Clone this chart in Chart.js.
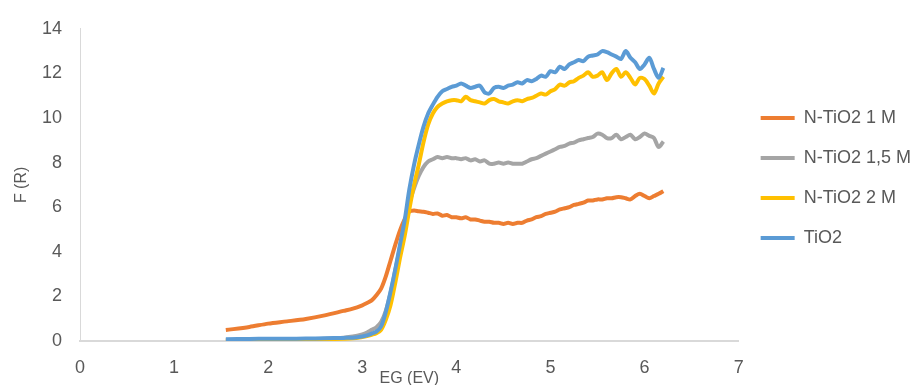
<!DOCTYPE html>
<html>
<head>
<meta charset="utf-8">
<script src="https://cdn.jsdelivr.net/npm/chart.js@4.4.1/dist/chart.umd.min.js"></script>
<style>
  html, body { margin: 0; padding: 0; background: #fff; }
  #wrap { width: 914px; height: 385px; position: relative; }
</style>
</head>
<body>
<div id="wrap"><canvas id="canvas"></canvas></div>
<script>
// band gap energy (eV), shared by all samples
const eg = [1.55, 1.8, 2.0, 2.2, 2.4, 2.6, 2.8, 2.9, 3.0, 3.05, 3.1, 3.15, 3.2, 3.25, 3.3, 3.35, 3.4, 3.45, 3.5, 3.55,
  3.6, 3.65, 3.7, 3.75, 3.8, 3.85, 3.9, 3.95, 4.0, 4.05, 4.1, 4.15, 4.2, 4.25, 4.3, 4.35, 4.4, 4.45,
  4.5, 4.55, 4.6, 4.65, 4.7, 4.75, 4.8, 4.85, 4.9, 4.95, 5.0, 5.05, 5.1, 5.15, 5.2, 5.25, 5.3, 5.35,
  5.4, 5.45, 5.5, 5.55, 5.6, 5.65, 5.7, 5.75, 5.8, 5.85, 5.9, 5.95, 6.0, 6.05, 6.1, 6.15, 6.2];

const nTiO2_1M = [0.49, 0.63, 0.78, 0.88, 0.99, 1.15, 1.35, 1.45, 1.6, 1.7, 1.82, 2.05, 2.35, 2.9, 3.6, 4.3, 4.95, 5.45, 5.8, 5.85,
  5.82, 5.8, 5.75, 5.7, 5.72, 5.62, 5.65, 5.55, 5.55, 5.5, 5.55, 5.45, 5.45, 5.4, 5.35, 5.35, 5.3, 5.3,
  5.25, 5.3, 5.25, 5.3, 5.3, 5.4, 5.45, 5.55, 5.6, 5.7, 5.75, 5.8, 5.9, 5.95, 6.0, 6.1, 6.15, 6.2,
  6.3, 6.3, 6.35, 6.35, 6.4, 6.4, 6.45, 6.45, 6.4, 6.35, 6.5, 6.6, 6.5, 6.4, 6.5, 6.6, 6.72];

const nTiO2_15M = [0.03, 0.04, 0.05, 0.06, 0.08, 0.1, 0.15, 0.2, 0.3, 0.38, 0.5, 0.62, 0.85, 1.35, 2.15, 3.15, 4.2, 5.3, 6.2, 6.85,
  7.4, 7.8, 8.05, 8.15, 8.25, 8.2, 8.25, 8.2, 8.2, 8.15, 8.2, 8.1, 8.15, 8.05, 8.1, 7.95, 7.95, 8.0,
  7.95, 8.0, 7.95, 7.95, 7.95, 8.05, 8.15, 8.2, 8.3, 8.4, 8.5, 8.6, 8.7, 8.75, 8.85, 8.9, 9.0, 9.05,
  9.1, 9.15, 9.3, 9.25, 9.1, 9.1, 9.25, 9.05, 9.15, 9.25, 9.05, 9.15, 9.3, 9.2, 9.1, 8.7, 8.95];

const nTiO2_2M = [0.02, 0.03, 0.04, 0.05, 0.06, 0.08, 0.1, 0.12, 0.18, 0.22, 0.28, 0.35, 0.5, 0.95, 1.6, 2.6, 3.7, 4.7, 5.9, 7.0,
  7.9, 8.9, 9.7, 10.2, 10.5, 10.65, 10.75, 10.8, 10.8, 10.75, 10.95, 10.8, 10.75, 10.7, 10.65, 10.8, 10.85, 10.75,
  10.7, 10.65, 10.75, 10.8, 10.75, 10.85, 10.9, 11.0, 11.1, 11.05, 11.2, 11.3, 11.5, 11.45, 11.6, 11.65, 11.8, 11.9,
  12.05, 11.85, 11.9, 12.05, 11.7, 12.0, 12.2, 11.85, 12.05, 11.8, 11.5, 11.8, 11.75, 11.45, 11.1, 11.55, 11.85];

const tiO2 = [0.08, 0.09, 0.1, 0.1, 0.11, 0.12, 0.14, 0.15, 0.2, 0.25, 0.33, 0.42, 0.65, 1.3, 2.2, 3.2, 4.3, 5.4, 6.8, 7.9,
  8.8, 9.6, 10.2, 10.6, 10.95, 11.2, 11.3, 11.4, 11.45, 11.55, 11.45, 11.35, 11.4, 11.45, 11.15, 11.1, 11.35, 11.4,
  11.35, 11.45, 11.5, 11.6, 11.55, 11.7, 11.65, 11.75, 11.9, 11.85, 12.1, 12.05, 12.3, 12.2, 12.4, 12.5, 12.6, 12.55,
  12.75, 12.8, 12.85, 13.0, 12.95, 12.85, 12.75, 12.65, 13.0, 12.7, 12.5, 12.2, 12.4, 12.7, 12.2, 11.8, 12.25];

const seriesNames = ['N-TiO2 1 M', 'N-TiO2 1,5 M', 'N-TiO2 2 M', 'TiO2'];
const seriesValues = [nTiO2_1M, nTiO2_15M, nTiO2_2M, tiO2];
const seriesColors = ['#ED7D31', '#A5A5A5', '#FFC000', '#5B9BD5'];

const xTicks = [0, 1, 2, 3, 4, 5, 6, 7];
const yTicks = [0, 2, 4, 6, 8, 10, 12, 14];

const textColor = '#595959';
const axisFont = { family: 'Liberation Sans', size: 18 };

const datasets = seriesNames.map((name, i) => ({
  label: name,
  data: eg.map((x, j) => ({ x: x, y: seriesValues[i][j] })),
  borderColor: seriesColors[i],
  backgroundColor: seriesColors[i],
  borderWidth: 4,
  pointRadius: 0,
  tension: 0.3,
  order: seriesNames.length - i // last series drawn on top, like excel
}));

const ctx = document.getElementById('canvas');
new Chart(ctx, {
  type: 'line',
  data: { datasets: datasets },
  options: {
    responsive: true,
    maintainAspectRatio: false,
    animation: false,
    layout: { padding: { top: 24, right: -7, bottom: 0, left: 0 } },
    plugins: {
      tooltip: { enabled: false },
      legend: {
        position: 'right',
        fullSize: false,
        title: { display: true, text: '', font: { size: 1, lineHeight: 1 }, padding: { top: -15, bottom: 0 } },
        labels: {
          usePointStyle: true,
          pointStyle: 'line',
          pointStyleWidth: 34,
          padding: 22,
          color: textColor,
          font: axisFont,
          sort: (a, b) => a.datasetIndex - b.datasetIndex
        }
      }
    },
    scales: {
      x: {
        type: 'linear',
        min: 0,
        max: 7,
        afterBuildTicks: (scale) => { scale.ticks = xTicks.map(v => ({ value: v })); },
        afterFit: (scale) => { scale.height = 44; },
        grid: { display: false, drawTicks: false },
        border: { display: true, color: '#D9D9D9', width: 2 },
        ticks: { color: textColor, font: axisFont, padding: 16, maxRotation: 0 },
        title: { display: true, text: 'EG (EV)', color: textColor, font: { family: 'Liberation Sans', size: 16 }, padding: { top: 0, bottom: -3 } }
      },
      y: {
        min: 0,
        max: 14,
        afterBuildTicks: (scale) => { scale.ticks = yTicks.map(v => ({ value: v })); },
        afterFit: (scale) => { scale.width = 80; },
        grid: { display: false, drawTicks: false },
        border: { display: true, color: '#D9D9D9', width: 1 },
        ticks: { color: textColor, font: axisFont, padding: 18 },
        title: { display: true, text: 'F (R)', color: textColor, font: { family: 'Liberation Sans', size: 16 }, padding: { top: 12, bottom: 0 } }
      }
    }
  }
});
</script>
</body>
</html>
